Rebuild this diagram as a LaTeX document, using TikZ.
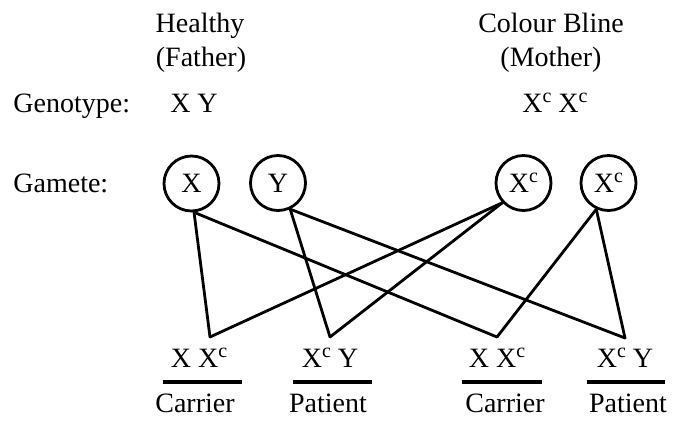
\documentclass[tikz,border=0pt]{standalone}
\usepackage{fontspec}
\setmainfont{Liberation Serif}
\newcommand{\xc}{X\raisebox{0.75ex}{\fontsize{10}{10}\selectfont c}}
\begin{document}
\begin{tikzpicture}[x=0.5pt,y=-0.5pt,
  lbl/.style={font=\fontsize{14}{16}\selectfont, inner sep=0, anchor=base},
  gam/.style={circle, draw, line width=1.4pt, minimum size=27.5pt, inner sep=0, font=\fontsize{14}{16}\selectfont},
  link/.style={line width=1.4pt, line join=round, line cap=round},
  bar/.style={line width=1.6pt}]
\useasboundingbox (0,0) rectangle (677,420);
% headers
\node[lbl] (healthy) at (200,32) {Healthy};
\node[lbl] (father) at (201,66) {(Father)};
\node[lbl] (cb) at (551,32) {Colour Bline};
\node[lbl] (mother) at (551,66) {(Mother)};
\node[lbl,anchor=base west] (genotype) at (13,112) {Genotype:};
\node[lbl] (fg) at (194,112) {X Y};
\node[lbl] (mg) at (555,112) {\xc\ \xc};
\node[lbl,anchor=base west] (gamete) at (13,192) {Gamete:};
% gametes
\node[gam] (gx) at (191.5,183.5) {X};
\node[gam] (gy) at (278,183) {Y};
\node[gam] (gc1) at (523.5,183) {\xc};
\node[gam] (gc2) at (608.5,183) {\xc};
% offspring vertices
\coordinate (o1) at (210,337);
\coordinate (o2) at (330,337);
\coordinate (o3) at (497,337);
\coordinate (o4) at (625,338);
% links
\draw[link] (gx.-85) -- (o1);
\draw[link] (gx.-85) -- (o3);
\draw[link] (gy.-65) -- (o2);
\draw[link] (gy.-65) -- (o4);
\draw[link] (gc1.-137) -- (o1);
\draw[link] (gc1.-137) -- (o2);
\draw[link] (gc2.-115) -- (o3);
\draw[link] (gc2.-115) -- (o4);
% offspring labels
\node[lbl] (c1) at (199,367) {X \xc};
\node[lbl] (c2) at (330,367) {\xc\ Y};
\node[lbl] (c3) at (497,367) {X \xc};
\node[lbl] (c4) at (625,367) {\xc\ Y};
\draw[bar] (163,382) -- (242,382);
\draw[bar] (293,382) -- (372,382);
\draw[bar] (462,382) -- (542,382);
\draw[bar] (587,382) -- (665,382);
\node[lbl] (p1) at (195,412) {Carrier};
\node[lbl] (p2) at (328,412) {Patient};
\node[lbl] (p3) at (505,412) {Carrier};
\node[lbl] (p4) at (628,412) {Patient};
\end{tikzpicture}
\end{document}
